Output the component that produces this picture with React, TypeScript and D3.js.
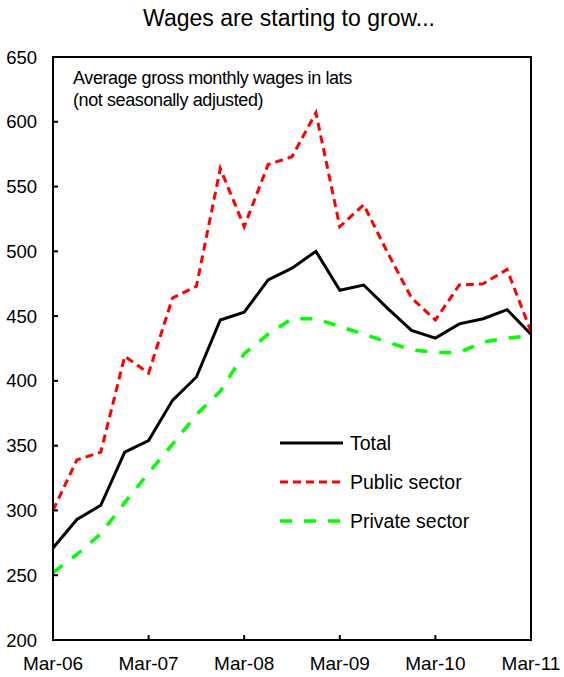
import React from "react";
import * as d3 from "d3";

const quarters = [
  "Mar-06", "Jun-06", "Sep-06", "Dec-06",
  "Mar-07", "Jun-07", "Sep-07", "Dec-07",
  "Mar-08", "Jun-08", "Sep-08", "Dec-08",
  "Mar-09", "Jun-09", "Sep-09", "Dec-09",
  "Mar-10", "Jun-10", "Sep-10", "Dec-10",
  "Mar-11",
];
const totalWages = [271, 293, 304, 345, 354, 385, 403, 447, 453, 478, 487, 500, 470, 474, 456, 439, 433, 444, 448, 455, 436];
const publicWages = [300, 339, 345, 419, 406, 464, 473, 564, 519, 567, 573, 607, 519, 536, 499, 464, 447, 474, 475, 486, 438];
const privateWages = [252, 266, 282, 306, 329, 351, 374, 392, 421, 436, 448, 448, 442, 436, 430, 424, 422, 422, 430, 433, 435];
const yTicks = [200, 250, 300, 350, 400, 450, 500, 550, 600, 650];
const xTickLabels = ["Mar-06", "Mar-07", "Mar-08", "Mar-09", "Mar-10", "Mar-11"];

const seriesList = [
  { name: "Total", values: totalWages, color: "#000000", dash: "none", width: 3 },
  { name: "Public sector", values: publicWages, color: "#FF0000", dash: "8,5", width: 3 },
  { name: "Private sector", values: privateWages, color: "#00FF00", dash: "12,12", width: 3.5 },
];

export default function App() {
  const W = 564, H = 677;
  const left = 53, right = 531, top = 57, bottom = 640;
  const x = d3.scaleLinear().domain([0, quarters.length - 1]).range([left, right]);
  const y = d3.scaleLinear().domain([200, 650]).range([bottom, top]);
  const line = d3.line<number>().x((_, i) => x(i)).y((v) => y(v));
  const font = "Arial, 'Liberation Sans', sans-serif";

  return (
    <svg width={W} height={H} style={{ position: "absolute", left: 0, top: 0, background: "#fff" }} fontFamily={font}>
      <text x={289} y={26} textAnchor="middle" fontSize={23} fill="#000">Wages are starting to grow...</text>

      {seriesList.map((s) => (
        <path key={s.name} d={line(s.values) || ""} fill="none" stroke={s.color}
          strokeWidth={s.width} strokeDasharray={s.dash} strokeLinejoin="miter" />
      ))}

      {/* frame */}
      <rect x={left} y={top} width={right - left} height={bottom - top} fill="none" stroke="#000" strokeWidth={2} />

      {yTicks.map((t) => (
        <g key={t}>
          <line x1={left} x2={left + 5} y1={y(t)} y2={y(t)} stroke="#000" strokeWidth={2} />
          <text x={37} y={y(t) + 6.6} textAnchor="end" fontSize={18.5} fill="#000">{t}</text>
        </g>
      ))}
      {xTickLabels.map((lab) => {
        const i = quarters.indexOf(lab);
        return (
          <g key={lab}>
            <line x1={x(i)} x2={x(i)} y1={bottom} y2={bottom - 5} stroke="#000" strokeWidth={2} />
            <text x={x(i)} y={670} textAnchor="middle" fontSize={19} fill="#000">{lab}</text>
          </g>
        );
      })}

      <text x={73} y={84} fontSize={18} fill="#000" letterSpacing={-0.4}>Average gross monthly wages in lats</text>
      <text x={73} y={106} fontSize={18} fill="#000" letterSpacing={-0.4}>(not seasonally adjusted)</text>

      {seriesList.map((s, k) => {
        const ly = 443 + k * 39;
        return (
          <g key={s.name}>
            <line x1={280} x2={343} y1={ly} y2={ly} stroke={s.color} strokeWidth={s.width} strokeDasharray={s.dash} />
            <text x={350} y={ly + 7} fontSize={19.5} fill="#000">{s.name}</text>
          </g>
        );
      })}
    </svg>
  );
}
